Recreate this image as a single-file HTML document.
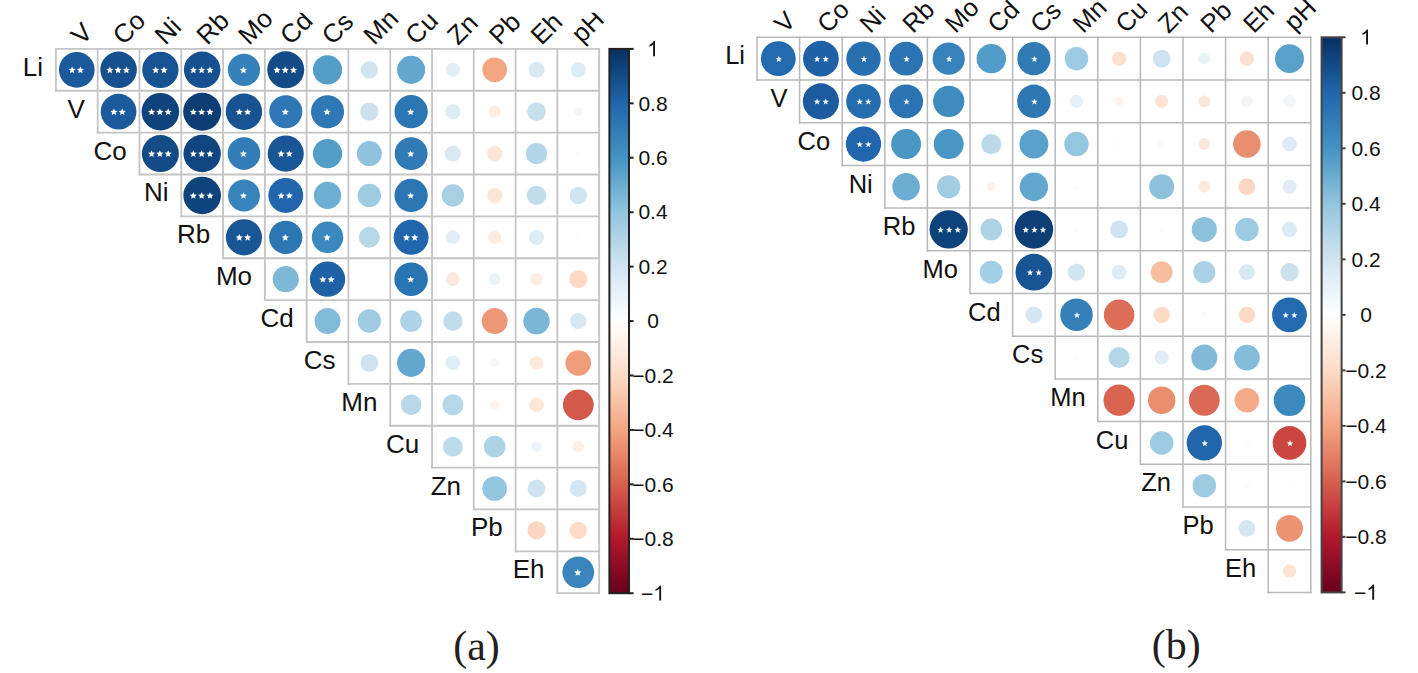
<!DOCTYPE html>
<html><head><meta charset="utf-8"><style>
html,body{margin:0;padding:0;background:#fff;}
body{width:1418px;height:673px;overflow:hidden;position:relative;}
svg{position:absolute;left:0;top:0;}
text{font-family:"Liberation Sans",sans-serif;}
.rl{text-anchor:end;fill:#111;}
.cl{fill:#111;}
.bl{text-anchor:middle;fill:#111;}
.st{font-size:19px;text-anchor:middle;fill:#fff;}
.cap{font-family:"Liberation Serif",serif;font-size:42px;fill:#231f20;text-anchor:middle;}
</style></head><body>
<svg width="1418" height="673" viewBox="0 0 1418 673">
<line x1="55.00" y1="48.90" x2="600.07" y2="48.90" stroke="#c4c4c4" stroke-width="1.8"/>
<line x1="55.00" y1="90.77" x2="600.07" y2="90.77" stroke="#c4c4c4" stroke-width="1.8"/>
<line x1="96.79" y1="132.64" x2="600.07" y2="132.64" stroke="#c4c4c4" stroke-width="1.8"/>
<line x1="138.58" y1="174.51" x2="600.07" y2="174.51" stroke="#c4c4c4" stroke-width="1.8"/>
<line x1="180.37" y1="216.38" x2="600.07" y2="216.38" stroke="#c4c4c4" stroke-width="1.8"/>
<line x1="222.16" y1="258.25" x2="600.07" y2="258.25" stroke="#c4c4c4" stroke-width="1.8"/>
<line x1="263.95" y1="300.12" x2="600.07" y2="300.12" stroke="#c4c4c4" stroke-width="1.8"/>
<line x1="305.74" y1="341.99" x2="600.07" y2="341.99" stroke="#c4c4c4" stroke-width="1.8"/>
<line x1="347.53" y1="383.86" x2="600.07" y2="383.86" stroke="#c4c4c4" stroke-width="1.8"/>
<line x1="389.32" y1="425.73" x2="600.07" y2="425.73" stroke="#c4c4c4" stroke-width="1.8"/>
<line x1="431.11" y1="467.60" x2="600.07" y2="467.60" stroke="#c4c4c4" stroke-width="1.8"/>
<line x1="472.90" y1="509.47" x2="600.07" y2="509.47" stroke="#c4c4c4" stroke-width="1.8"/>
<line x1="514.69" y1="551.34" x2="600.07" y2="551.34" stroke="#c4c4c4" stroke-width="1.8"/>
<line x1="556.48" y1="593.21" x2="600.07" y2="593.21" stroke="#c4c4c4" stroke-width="1.8"/>
<line x1="55.90" y1="48.00" x2="55.90" y2="91.67" stroke="#c4c4c4" stroke-width="1.8"/>
<line x1="97.69" y1="48.00" x2="97.69" y2="133.54" stroke="#c4c4c4" stroke-width="1.8"/>
<line x1="139.48" y1="48.00" x2="139.48" y2="175.41" stroke="#c4c4c4" stroke-width="1.8"/>
<line x1="181.27" y1="48.00" x2="181.27" y2="217.28" stroke="#c4c4c4" stroke-width="1.8"/>
<line x1="223.06" y1="48.00" x2="223.06" y2="259.15" stroke="#c4c4c4" stroke-width="1.8"/>
<line x1="264.85" y1="48.00" x2="264.85" y2="301.02" stroke="#c4c4c4" stroke-width="1.8"/>
<line x1="306.64" y1="48.00" x2="306.64" y2="342.89" stroke="#c4c4c4" stroke-width="1.8"/>
<line x1="348.43" y1="48.00" x2="348.43" y2="384.76" stroke="#c4c4c4" stroke-width="1.8"/>
<line x1="390.22" y1="48.00" x2="390.22" y2="426.63" stroke="#c4c4c4" stroke-width="1.8"/>
<line x1="432.01" y1="48.00" x2="432.01" y2="468.50" stroke="#c4c4c4" stroke-width="1.8"/>
<line x1="473.80" y1="48.00" x2="473.80" y2="510.37" stroke="#c4c4c4" stroke-width="1.8"/>
<line x1="515.59" y1="48.00" x2="515.59" y2="552.24" stroke="#c4c4c4" stroke-width="1.8"/>
<line x1="557.38" y1="48.00" x2="557.38" y2="594.11" stroke="#c4c4c4" stroke-width="1.8"/>
<line x1="599.17" y1="48.00" x2="599.17" y2="594.11" stroke="#c4c4c4" stroke-width="1.8"/>
<circle cx="76.80" cy="69.83" r="17.87" fill="#1b5b9d"/>
<polygon points="72.14,66.53 73.17,68.82 75.66,69.09 73.81,70.78 74.32,73.23 72.14,71.98 69.97,73.23 70.48,70.78 68.63,69.09 71.12,68.82" fill="#ffffff"/>
<polygon points="80.45,66.53 81.47,68.82 83.96,69.09 82.11,70.78 82.62,73.23 80.45,71.98 78.27,73.23 78.78,70.78 76.93,69.09 79.42,68.82" fill="#ffffff"/>
<circle cx="118.59" cy="69.83" r="18.29" fill="#16508e"/>
<polygon points="109.79,66.53 110.81,68.82 113.30,69.09 111.45,70.78 111.96,73.23 109.79,71.98 107.61,73.23 108.12,70.78 106.27,69.09 108.76,68.82" fill="#ffffff"/>
<polygon points="118.09,66.53 119.11,68.82 121.60,69.09 119.75,70.78 120.26,73.23 118.09,71.98 115.91,73.23 116.42,70.78 114.57,69.09 117.06,68.82" fill="#ffffff"/>
<polygon points="126.39,66.53 127.41,68.82 129.90,69.09 128.05,70.78 128.56,73.23 126.39,71.98 124.21,73.23 124.72,70.78 122.87,69.09 125.36,68.82" fill="#ffffff"/>
<circle cx="160.38" cy="69.83" r="18.19" fill="#175392"/>
<polygon points="155.72,66.53 156.75,68.82 159.24,69.09 157.39,70.78 157.90,73.23 155.72,71.98 153.55,73.23 154.06,70.78 152.21,69.09 154.70,68.82" fill="#ffffff"/>
<polygon points="164.03,66.53 165.05,68.82 167.54,69.09 165.69,70.78 166.20,73.23 164.03,71.98 161.85,73.23 162.36,70.78 160.51,69.09 163.00,68.82" fill="#ffffff"/>
<circle cx="202.16" cy="69.83" r="18.29" fill="#16508e"/>
<polygon points="193.36,66.53 194.39,68.82 196.88,69.09 195.03,70.78 195.54,73.23 193.36,71.98 191.19,73.23 191.70,70.78 189.85,69.09 192.34,68.82" fill="#ffffff"/>
<polygon points="201.66,66.53 202.69,68.82 205.18,69.09 203.33,70.78 203.84,73.23 201.66,71.98 199.49,73.23 200.00,70.78 198.15,69.09 200.64,68.82" fill="#ffffff"/>
<polygon points="209.97,66.53 210.99,68.82 213.48,69.09 211.63,70.78 212.14,73.23 209.97,71.98 207.79,73.23 208.30,70.78 206.45,69.09 208.94,68.82" fill="#ffffff"/>
<circle cx="243.96" cy="69.83" r="16.08" fill="#3581ba"/>
<polygon points="243.46,66.53 244.48,68.82 246.97,69.09 245.12,70.78 245.63,73.23 243.46,71.98 241.28,73.23 241.79,70.78 239.94,69.09 242.43,68.82" fill="#ffffff"/>
<circle cx="285.75" cy="69.83" r="18.50" fill="#134b86"/>
<polygon points="276.94,66.53 277.97,68.82 280.46,69.09 278.61,70.78 279.12,73.23 276.94,71.98 274.77,73.23 275.28,70.78 273.43,69.09 275.92,68.82" fill="#ffffff"/>
<polygon points="285.25,66.53 286.27,68.82 288.76,69.09 286.91,70.78 287.42,73.23 285.25,71.98 283.07,73.23 283.58,70.78 281.73,69.09 284.22,68.82" fill="#ffffff"/>
<polygon points="293.55,66.53 294.57,68.82 297.06,69.09 295.21,70.78 295.72,73.23 293.55,71.98 291.37,73.23 291.88,70.78 290.03,69.09 292.52,68.82" fill="#ffffff"/>
<circle cx="327.53" cy="69.83" r="14.59" fill="#539dc8"/>
<circle cx="369.32" cy="69.83" r="8.72" fill="#d1e5f0"/>
<circle cx="411.11" cy="69.83" r="14.06" fill="#63a7ce"/>
<circle cx="452.90" cy="69.83" r="7.03" fill="#e1eef5"/>
<circle cx="494.69" cy="69.83" r="12.33" fill="#f4a582"/>
<circle cx="536.49" cy="69.83" r="8.04" fill="#d8e9f2"/>
<circle cx="578.27" cy="69.83" r="7.55" fill="#dcecf4"/>
<circle cx="118.59" cy="111.70" r="17.87" fill="#1b5b9d"/>
<polygon points="113.94,108.40 114.96,110.69 117.45,110.96 115.60,112.65 116.11,115.10 113.94,113.85 111.76,115.10 112.27,112.65 110.42,110.96 112.91,110.69" fill="#ffffff"/>
<polygon points="122.24,108.40 123.26,110.69 125.75,110.96 123.90,112.65 124.41,115.10 122.24,113.85 120.06,115.10 120.57,112.65 118.72,110.96 121.21,110.69" fill="#ffffff"/>
<circle cx="160.38" cy="111.70" r="18.81" fill="#0f437b"/>
<polygon points="151.57,108.40 152.60,110.69 155.09,110.96 153.24,112.65 153.75,115.10 151.57,113.85 149.40,115.10 149.91,112.65 148.06,110.96 150.55,110.69" fill="#ffffff"/>
<polygon points="159.88,108.40 160.90,110.69 163.39,110.96 161.54,112.65 162.05,115.10 159.88,113.85 157.70,115.10 158.21,112.65 156.36,110.96 158.85,110.69" fill="#ffffff"/>
<polygon points="168.18,108.40 169.20,110.69 171.69,110.96 169.84,112.65 170.35,115.10 168.18,113.85 166.00,115.10 166.51,112.65 164.66,110.96 167.15,110.69" fill="#ffffff"/>
<circle cx="202.16" cy="111.70" r="19.01" fill="#0c3e74"/>
<polygon points="193.36,108.40 194.39,110.69 196.88,110.96 195.03,112.65 195.54,115.10 193.36,113.85 191.19,115.10 191.70,112.65 189.85,110.96 192.34,110.69" fill="#ffffff"/>
<polygon points="201.66,108.40 202.69,110.69 205.18,110.96 203.33,112.65 203.84,115.10 201.66,113.85 199.49,115.10 200.00,112.65 198.15,110.96 200.64,110.69" fill="#ffffff"/>
<polygon points="209.97,108.40 210.99,110.69 213.48,110.96 211.63,112.65 212.14,115.10 209.97,113.85 207.79,115.10 208.30,112.65 206.45,110.96 208.94,110.69" fill="#ffffff"/>
<circle cx="243.96" cy="111.70" r="18.19" fill="#175392"/>
<polygon points="239.31,108.40 240.33,110.69 242.82,110.96 240.97,112.65 241.48,115.10 239.31,113.85 237.13,115.10 237.64,112.65 235.79,110.96 238.28,110.69" fill="#ffffff"/>
<polygon points="247.61,108.40 248.63,110.69 251.12,110.96 249.27,112.65 249.78,115.10 247.61,113.85 245.43,115.10 245.94,112.65 244.09,110.96 246.58,110.69" fill="#ffffff"/>
<circle cx="285.75" cy="111.70" r="16.55" fill="#2f78b5"/>
<polygon points="285.25,108.40 286.27,110.69 288.76,110.96 286.91,112.65 287.42,115.10 285.25,113.85 283.07,115.10 283.58,112.65 281.73,110.96 284.22,110.69" fill="#ffffff"/>
<circle cx="327.53" cy="111.70" r="16.55" fill="#2f78b5"/>
<polygon points="327.03,108.40 328.06,110.69 330.55,110.96 328.70,112.65 329.21,115.10 327.03,113.85 324.86,115.10 325.37,112.65 323.52,110.96 326.01,110.69" fill="#ffffff"/>
<circle cx="369.32" cy="111.70" r="9.15" fill="#cbe2ee"/>
<circle cx="411.11" cy="111.70" r="16.66" fill="#2d76b4"/>
<polygon points="410.61,108.40 411.64,110.69 414.13,110.96 412.28,112.65 412.79,115.10 410.61,113.85 408.44,115.10 408.95,112.65 407.10,110.96 409.59,110.69" fill="#ffffff"/>
<circle cx="452.90" cy="111.70" r="7.55" fill="#dcecf4"/>
<circle cx="494.69" cy="111.70" r="6.17" fill="#feede3"/>
<circle cx="536.49" cy="111.70" r="9.35" fill="#c8e0ed"/>
<circle cx="578.27" cy="111.70" r="4.36" fill="#f4f8fb"/>
<circle cx="160.38" cy="153.57" r="18.50" fill="#134b86"/>
<polygon points="151.57,150.28 152.60,152.56 155.09,152.83 153.24,154.52 153.75,156.97 151.57,155.72 149.40,156.97 149.91,154.52 148.06,152.83 150.55,152.56" fill="#ffffff"/>
<polygon points="159.88,150.28 160.90,152.56 163.39,152.83 161.54,154.52 162.05,156.97 159.88,155.72 157.70,156.97 158.21,154.52 156.36,152.83 158.85,152.56" fill="#ffffff"/>
<polygon points="168.18,150.28 169.20,152.56 171.69,152.83 169.84,154.52 170.35,156.97 168.18,155.72 166.00,156.97 166.51,154.52 164.66,152.83 167.15,152.56" fill="#ffffff"/>
<circle cx="202.16" cy="153.57" r="18.70" fill="#10467f"/>
<polygon points="193.36,150.28 194.39,152.56 196.88,152.83 195.03,154.52 195.54,156.97 193.36,155.72 191.19,156.97 191.70,154.52 189.85,152.83 192.34,152.56" fill="#ffffff"/>
<polygon points="201.66,150.28 202.69,152.56 205.18,152.83 203.33,154.52 203.84,156.97 201.66,155.72 199.49,156.97 200.00,154.52 198.15,152.83 200.64,152.56" fill="#ffffff"/>
<polygon points="209.97,150.28 210.99,152.56 213.48,152.83 211.63,154.52 212.14,156.97 209.97,155.72 207.79,156.97 208.30,154.52 206.45,152.83 208.94,152.56" fill="#ffffff"/>
<circle cx="243.96" cy="153.57" r="16.31" fill="#327cb8"/>
<polygon points="243.46,150.28 244.48,152.56 246.97,152.83 245.12,154.52 245.63,156.97 243.46,155.72 241.28,156.97 241.79,154.52 239.94,152.83 242.43,152.56" fill="#ffffff"/>
<circle cx="285.75" cy="153.57" r="18.08" fill="#195696"/>
<polygon points="281.10,150.28 282.12,152.56 284.61,152.83 282.76,154.52 283.27,156.97 281.10,155.72 278.92,156.97 279.43,154.52 277.58,152.83 280.07,152.56" fill="#ffffff"/>
<polygon points="289.39,150.28 290.42,152.56 292.91,152.83 291.06,154.52 291.57,156.97 289.39,155.72 287.22,156.97 287.73,154.52 285.88,152.83 288.37,152.56" fill="#ffffff"/>
<circle cx="327.53" cy="153.57" r="14.59" fill="#539dc8"/>
<circle cx="369.32" cy="153.57" r="12.49" fill="#8ec2dd"/>
<circle cx="411.11" cy="153.57" r="16.43" fill="#307ab6"/>
<polygon points="410.61,150.28 411.64,152.56 414.13,152.83 412.28,154.52 412.79,156.97 410.61,155.72 408.44,156.97 408.95,154.52 407.10,152.83 409.59,152.56" fill="#ffffff"/>
<circle cx="452.90" cy="153.57" r="8.04" fill="#d8e9f2"/>
<circle cx="494.69" cy="153.57" r="7.55" fill="#fee4d5"/>
<circle cx="536.49" cy="153.57" r="10.68" fill="#b2d5e7"/>
<circle cx="578.27" cy="153.57" r="2.76" fill="#fafcfe"/>
<circle cx="202.16" cy="195.44" r="18.81" fill="#0f437b"/>
<polygon points="193.36,192.15 194.39,194.43 196.88,194.70 195.03,196.39 195.54,198.84 193.36,197.59 191.19,198.84 191.70,196.39 189.85,194.70 192.34,194.43" fill="#ffffff"/>
<polygon points="201.66,192.15 202.69,194.43 205.18,194.70 203.33,196.39 203.84,198.84 201.66,197.59 199.49,198.84 200.00,196.39 198.15,194.70 200.64,194.43" fill="#ffffff"/>
<polygon points="209.97,192.15 210.99,194.43 213.48,194.70 211.63,196.39 212.14,198.84 209.97,197.59 207.79,198.84 208.30,196.39 206.45,194.70 208.94,194.43" fill="#ffffff"/>
<circle cx="243.96" cy="195.44" r="15.96" fill="#3783bb"/>
<polygon points="243.46,192.15 244.48,194.43 246.97,194.70 245.12,196.39 245.63,198.84 243.46,197.59 241.28,198.84 241.79,196.39 239.94,194.70 242.43,194.43" fill="#ffffff"/>
<circle cx="285.75" cy="195.44" r="17.44" fill="#2166ac"/>
<polygon points="281.10,192.15 282.12,194.43 284.61,194.70 282.76,196.39 283.27,198.84 281.10,197.59 278.92,198.84 279.43,196.39 277.58,194.70 280.07,194.43" fill="#ffffff"/>
<polygon points="289.39,192.15 290.42,194.43 292.91,194.70 291.06,196.39 291.57,198.84 289.39,197.59 287.22,198.84 287.73,196.39 285.88,194.70 288.37,194.43" fill="#ffffff"/>
<circle cx="327.53" cy="195.44" r="13.65" fill="#6eaed2"/>
<circle cx="369.32" cy="195.44" r="11.70" fill="#9fcbe2"/>
<circle cx="411.11" cy="195.44" r="16.66" fill="#2d76b4"/>
<polygon points="410.61,192.15 411.64,194.43 414.13,194.70 412.28,196.39 412.79,198.84 410.61,197.59 408.44,198.84 408.95,196.39 407.10,194.70 409.59,194.43" fill="#ffffff"/>
<circle cx="452.90" cy="195.44" r="11.20" fill="#a8d0e4"/>
<circle cx="494.69" cy="195.44" r="7.55" fill="#fee4d5"/>
<circle cx="536.49" cy="195.44" r="9.75" fill="#c1ddec"/>
<circle cx="578.27" cy="195.44" r="8.72" fill="#d1e5f0"/>
<circle cx="243.96" cy="237.31" r="18.08" fill="#195696"/>
<polygon points="239.31,234.02 240.33,236.30 242.82,236.57 240.97,238.26 241.48,240.71 239.31,239.47 237.13,240.71 237.64,238.26 235.79,236.57 238.28,236.30" fill="#ffffff"/>
<polygon points="247.61,234.02 248.63,236.30 251.12,236.57 249.27,238.26 249.78,240.71 247.61,239.47 245.43,240.71 245.94,238.26 244.09,236.57 246.58,236.30" fill="#ffffff"/>
<circle cx="285.75" cy="237.31" r="16.66" fill="#2d76b4"/>
<polygon points="285.25,234.02 286.27,236.30 288.76,236.57 286.91,238.26 287.42,240.71 285.25,239.47 283.07,240.71 283.58,238.26 281.73,236.57 284.22,236.30" fill="#ffffff"/>
<circle cx="327.53" cy="237.31" r="15.72" fill="#3a88bd"/>
<polygon points="327.03,234.02 328.06,236.30 330.55,236.57 328.70,238.26 329.21,240.71 327.03,239.47 324.86,240.71 325.37,238.26 323.52,236.57 326.01,236.30" fill="#ffffff"/>
<circle cx="369.32" cy="237.31" r="10.50" fill="#b5d7e8"/>
<circle cx="411.11" cy="237.31" r="17.44" fill="#2166ac"/>
<polygon points="406.46,234.02 407.49,236.30 409.98,236.57 408.13,238.26 408.64,240.71 406.46,239.47 404.29,240.71 404.80,238.26 402.95,236.57 405.44,236.30" fill="#ffffff"/>
<polygon points="414.76,234.02 415.79,236.30 418.28,236.57 416.43,238.26 416.94,240.71 414.76,239.47 412.59,240.71 413.10,238.26 411.25,236.57 413.74,236.30" fill="#ffffff"/>
<circle cx="452.90" cy="237.31" r="7.03" fill="#e1eef5"/>
<circle cx="494.69" cy="237.31" r="6.47" fill="#feebe0"/>
<circle cx="536.49" cy="237.31" r="7.55" fill="#dcecf4"/>
<circle cx="578.27" cy="237.31" r="2.76" fill="#fffbf9"/>
<circle cx="285.75" cy="279.19" r="13.08" fill="#7eb8d7"/>
<circle cx="327.53" cy="279.19" r="17.66" fill="#1e61a5"/>
<polygon points="322.88,275.88 323.91,278.17 326.40,278.44 324.55,280.13 325.06,282.58 322.88,281.33 320.71,282.58 321.22,280.13 319.37,278.44 321.86,278.17" fill="#ffffff"/>
<polygon points="331.18,275.88 332.21,278.17 334.70,278.44 332.85,280.13 333.36,282.58 331.18,281.33 329.01,282.58 329.52,280.13 327.67,278.44 330.16,278.17" fill="#ffffff"/>
<circle cx="369.32" cy="279.19" r="1.95" fill="#fdfefe"/>
<circle cx="411.11" cy="279.19" r="16.77" fill="#2b74b3"/>
<polygon points="410.61,275.88 411.64,278.17 414.13,278.44 412.28,280.13 412.79,282.58 410.61,281.33 408.44,282.58 408.95,280.13 407.10,278.44 409.59,278.17" fill="#ffffff"/>
<circle cx="452.90" cy="279.19" r="6.89" fill="#fee8dc"/>
<circle cx="494.69" cy="279.19" r="5.85" fill="#eaf3f8"/>
<circle cx="536.49" cy="279.19" r="6.17" fill="#feede3"/>
<circle cx="578.27" cy="279.19" r="8.94" fill="#fdd8c4"/>
<circle cx="327.53" cy="321.05" r="12.93" fill="#82bbd9"/>
<circle cx="369.32" cy="321.05" r="11.70" fill="#9fcbe2"/>
<circle cx="411.11" cy="321.05" r="10.86" fill="#aed3e6"/>
<circle cx="452.90" cy="321.05" r="9.75" fill="#c1ddec"/>
<circle cx="494.69" cy="321.05" r="12.93" fill="#ee9777"/>
<circle cx="536.49" cy="321.05" r="13.23" fill="#7ab6d6"/>
<circle cx="578.27" cy="321.05" r="8.16" fill="#d7e8f2"/>
<circle cx="369.32" cy="362.92" r="8.94" fill="#cee3ef"/>
<circle cx="411.11" cy="362.92" r="14.06" fill="#63a7ce"/>
<circle cx="452.90" cy="362.92" r="7.30" fill="#dfedf4"/>
<circle cx="494.69" cy="362.92" r="4.36" fill="#f4f8fb"/>
<circle cx="536.49" cy="362.92" r="6.75" fill="#fee9dd"/>
<circle cx="578.27" cy="362.92" r="12.79" fill="#f09b7a"/>
<circle cx="411.11" cy="404.79" r="10.32" fill="#b8d8e9"/>
<circle cx="452.90" cy="404.79" r="10.50" fill="#b5d7e8"/>
<circle cx="494.69" cy="404.79" r="4.78" fill="#fef4ee"/>
<circle cx="536.49" cy="404.79" r="7.30" fill="#fee6d8"/>
<circle cx="578.27" cy="404.79" r="15.35" fill="#d2594a"/>
<circle cx="452.90" cy="446.66" r="9.94" fill="#bedbeb"/>
<circle cx="494.69" cy="446.66" r="10.86" fill="#aed3e6"/>
<circle cx="536.49" cy="446.66" r="5.34" fill="#eef5f9"/>
<circle cx="578.27" cy="446.66" r="5.85" fill="#feefe6"/>
<circle cx="494.69" cy="488.53" r="12.33" fill="#92c5de"/>
<circle cx="536.49" cy="488.53" r="8.94" fill="#cee3ef"/>
<circle cx="578.27" cy="488.53" r="8.50" fill="#d3e6f1"/>
<circle cx="536.49" cy="530.40" r="9.15" fill="#fcd6c0"/>
<circle cx="578.27" cy="530.40" r="8.72" fill="#fddbc7"/>
<circle cx="578.27" cy="572.27" r="15.84" fill="#3985bc"/>
<polygon points="577.77,568.97 578.80,571.26 581.29,571.53 579.44,573.22 579.95,575.67 577.77,574.42 575.60,575.67 576.11,573.22 574.26,571.53 576.75,571.26" fill="#ffffff"/>
<text x="43.10" y="75.83" class="rl" font-size="26">Li</text>
<text x="84.89" y="117.70" class="rl" font-size="26">V</text>
<text x="126.68" y="159.57" class="rl" font-size="26">Co</text>
<text x="168.47" y="201.44" class="rl" font-size="26">Ni</text>
<text x="210.26" y="243.31" class="rl" font-size="26">Rb</text>
<text x="252.05" y="285.19" class="rl" font-size="26">Mo</text>
<text x="293.84" y="327.05" class="rl" font-size="26">Cd</text>
<text x="335.63" y="368.92" class="rl" font-size="26">Cs</text>
<text x="377.42" y="410.79" class="rl" font-size="26">Mn</text>
<text x="419.21" y="452.66" class="rl" font-size="26">Cu</text>
<text x="461.00" y="494.53" class="rl" font-size="26">Zn</text>
<text x="502.79" y="536.40" class="rl" font-size="26">Pb</text>
<text x="544.58" y="578.27" class="rl" font-size="26">Eh</text>
<clipPath id="gac"><rect x="0" y="12.8" width="1418" height="673"/></clipPath><g clip-path="url(#gac)">
<text transform="translate(81.80,45.90) rotate(-45)" class="cl" font-size="26">V</text>
<text transform="translate(123.59,45.90) rotate(-45)" class="cl" font-size="26">Co</text>
<text transform="translate(165.38,45.90) rotate(-45)" class="cl" font-size="26">Ni</text>
<text transform="translate(207.16,45.90) rotate(-45)" class="cl" font-size="26">Rb</text>
<text transform="translate(248.96,45.90) rotate(-45)" class="cl" font-size="26">Mo</text>
<text transform="translate(290.75,45.90) rotate(-45)" class="cl" font-size="26">Cd</text>
<text transform="translate(332.53,45.90) rotate(-45)" class="cl" font-size="26">Cs</text>
<text transform="translate(374.32,45.90) rotate(-45)" class="cl" font-size="26">Mn</text>
<text transform="translate(416.11,45.90) rotate(-45)" class="cl" font-size="26">Cu</text>
<text transform="translate(457.90,45.90) rotate(-45)" class="cl" font-size="26">Zn</text>
<text transform="translate(499.69,45.90) rotate(-45)" class="cl" font-size="26">Pb</text>
<text transform="translate(541.49,45.90) rotate(-45)" class="cl" font-size="26">Eh</text>
<text transform="translate(582.07,44.30) rotate(-45)" class="cl" font-size="26">pH</text>
</g>
<defs><linearGradient id="ga" x1="0" y1="0" x2="0" y2="1"><stop offset="0.00" stop-color="#053061"/><stop offset="0.10" stop-color="#2166AC"/><stop offset="0.20" stop-color="#4393C3"/><stop offset="0.30" stop-color="#92C5DE"/><stop offset="0.40" stop-color="#D1E5F0"/><stop offset="0.50" stop-color="#FFFFFF"/><stop offset="0.60" stop-color="#FDDBC7"/><stop offset="0.70" stop-color="#F4A582"/><stop offset="0.80" stop-color="#D6604D"/><stop offset="0.90" stop-color="#B2182B"/><stop offset="1.00" stop-color="#67001F"/></linearGradient></defs>
<rect x="609.40" y="48.90" width="19.60" height="544.31" fill="url(#ga)" stroke="#222" stroke-width="2"/>
<line x1="629.00" y1="48.90" x2="633.60" y2="48.90" stroke="#222" stroke-width="2"/>
<path transform="translate(647.16,56.20) scale(0.01025,-0.01025)" d="M763 0H583V1147Q518 1085 412 1023Q307 961 223 930V1104Q374 1175 487 1276Q600 1377 647 1472H763Z" fill="#111"/>
<line x1="629.00" y1="103.33" x2="633.60" y2="103.33" stroke="#222" stroke-width="2"/>
<text x="653.00" y="110.63" class="bl" font-size="21">0.8</text>
<line x1="629.00" y1="157.76" x2="633.60" y2="157.76" stroke="#222" stroke-width="2"/>
<text x="653.00" y="165.06" class="bl" font-size="21">0.6</text>
<line x1="629.00" y1="212.19" x2="633.60" y2="212.19" stroke="#222" stroke-width="2"/>
<text x="653.00" y="219.49" class="bl" font-size="21">0.4</text>
<line x1="629.00" y1="266.62" x2="633.60" y2="266.62" stroke="#222" stroke-width="2"/>
<text x="653.00" y="273.92" class="bl" font-size="21">0.2</text>
<line x1="629.00" y1="321.05" x2="633.60" y2="321.05" stroke="#222" stroke-width="2"/>
<text x="653.00" y="328.35" class="bl" font-size="21">0</text>
<line x1="629.00" y1="375.49" x2="633.60" y2="375.49" stroke="#222" stroke-width="2"/>
<text x="653.00" y="382.79" class="bl" font-size="21">−0.2</text>
<line x1="629.00" y1="429.92" x2="633.60" y2="429.92" stroke="#222" stroke-width="2"/>
<text x="653.00" y="437.22" class="bl" font-size="21">−0.4</text>
<line x1="629.00" y1="484.35" x2="633.60" y2="484.35" stroke="#222" stroke-width="2"/>
<text x="653.00" y="491.65" class="bl" font-size="21">−0.6</text>
<line x1="629.00" y1="538.78" x2="633.60" y2="538.78" stroke="#222" stroke-width="2"/>
<text x="653.00" y="546.08" class="bl" font-size="21">−0.8</text>
<line x1="629.00" y1="593.21" x2="633.60" y2="593.21" stroke="#222" stroke-width="2"/>
<text x="641.03" y="600.51" class="bl" style="text-anchor:start" font-size="21">−</text>
<path transform="translate(653.29,600.51) scale(0.01025,-0.01025)" d="M763 0H583V1147Q518 1085 412 1023Q307 961 223 930V1104Q374 1175 487 1276Q600 1377 647 1472H763Z" fill="#111"/>
<line x1="756.25" y1="37.30" x2="1311.55" y2="37.30" stroke="#b8b8b8" stroke-width="1.5"/>
<line x1="756.25" y1="80.00" x2="1311.55" y2="80.00" stroke="#b8b8b8" stroke-width="1.5"/>
<line x1="798.85" y1="122.70" x2="1311.55" y2="122.70" stroke="#b8b8b8" stroke-width="1.5"/>
<line x1="841.45" y1="165.40" x2="1311.55" y2="165.40" stroke="#b8b8b8" stroke-width="1.5"/>
<line x1="884.05" y1="208.10" x2="1311.55" y2="208.10" stroke="#b8b8b8" stroke-width="1.5"/>
<line x1="926.65" y1="250.80" x2="1311.55" y2="250.80" stroke="#b8b8b8" stroke-width="1.5"/>
<line x1="969.25" y1="293.50" x2="1311.55" y2="293.50" stroke="#b8b8b8" stroke-width="1.5"/>
<line x1="1011.85" y1="336.20" x2="1311.55" y2="336.20" stroke="#b8b8b8" stroke-width="1.5"/>
<line x1="1054.45" y1="378.90" x2="1311.55" y2="378.90" stroke="#b8b8b8" stroke-width="1.5"/>
<line x1="1097.05" y1="421.60" x2="1311.55" y2="421.60" stroke="#b8b8b8" stroke-width="1.5"/>
<line x1="1139.65" y1="464.30" x2="1311.55" y2="464.30" stroke="#b8b8b8" stroke-width="1.5"/>
<line x1="1182.25" y1="507.00" x2="1311.55" y2="507.00" stroke="#b8b8b8" stroke-width="1.5"/>
<line x1="1224.85" y1="549.70" x2="1311.55" y2="549.70" stroke="#b8b8b8" stroke-width="1.5"/>
<line x1="1267.45" y1="592.40" x2="1311.55" y2="592.40" stroke="#b8b8b8" stroke-width="1.5"/>
<line x1="757.00" y1="36.55" x2="757.00" y2="80.75" stroke="#b8b8b8" stroke-width="1.5"/>
<line x1="799.60" y1="36.55" x2="799.60" y2="123.45" stroke="#b8b8b8" stroke-width="1.5"/>
<line x1="842.20" y1="36.55" x2="842.20" y2="166.15" stroke="#b8b8b8" stroke-width="1.5"/>
<line x1="884.80" y1="36.55" x2="884.80" y2="208.85" stroke="#b8b8b8" stroke-width="1.5"/>
<line x1="927.40" y1="36.55" x2="927.40" y2="251.55" stroke="#b8b8b8" stroke-width="1.5"/>
<line x1="970.00" y1="36.55" x2="970.00" y2="294.25" stroke="#b8b8b8" stroke-width="1.5"/>
<line x1="1012.60" y1="36.55" x2="1012.60" y2="336.95" stroke="#b8b8b8" stroke-width="1.5"/>
<line x1="1055.20" y1="36.55" x2="1055.20" y2="379.65" stroke="#b8b8b8" stroke-width="1.5"/>
<line x1="1097.80" y1="36.55" x2="1097.80" y2="422.35" stroke="#b8b8b8" stroke-width="1.5"/>
<line x1="1140.40" y1="36.55" x2="1140.40" y2="465.05" stroke="#b8b8b8" stroke-width="1.5"/>
<line x1="1183.00" y1="36.55" x2="1183.00" y2="507.75" stroke="#b8b8b8" stroke-width="1.5"/>
<line x1="1225.60" y1="36.55" x2="1225.60" y2="550.45" stroke="#b8b8b8" stroke-width="1.5"/>
<line x1="1268.20" y1="36.55" x2="1268.20" y2="593.15" stroke="#b8b8b8" stroke-width="1.5"/>
<line x1="1310.80" y1="36.55" x2="1310.80" y2="593.15" stroke="#b8b8b8" stroke-width="1.5"/>
<circle cx="778.30" cy="58.65" r="17.42" fill="#246aae"/>
<polygon points="778.80,55.75 779.68,57.94 782.03,58.10 780.23,59.61 780.80,61.90 778.80,60.65 776.80,61.90 777.37,59.61 775.57,58.10 777.92,57.94" fill="#f4f8fc"/>
<circle cx="820.90" cy="58.65" r="17.87" fill="#1e61a5"/>
<polygon points="817.10,55.75 817.98,57.94 820.33,58.10 818.53,59.61 819.10,61.90 817.10,60.65 815.10,61.90 815.67,59.61 813.87,58.10 816.22,57.94" fill="#f4f8fc"/>
<polygon points="825.70,55.75 826.58,57.94 828.93,58.10 827.13,59.61 827.70,61.90 825.70,60.65 823.70,61.90 824.27,59.61 822.47,58.10 824.82,57.94" fill="#f4f8fc"/>
<circle cx="863.50" cy="58.65" r="17.19" fill="#286fb0"/>
<polygon points="864.00,55.75 864.88,57.94 867.23,58.10 865.43,59.61 866.00,61.90 864.00,60.65 862.00,61.90 862.57,59.61 860.77,58.10 863.12,57.94" fill="#f4f8fc"/>
<circle cx="906.10" cy="58.65" r="16.96" fill="#2b73b3"/>
<polygon points="906.60,55.75 907.48,57.94 909.83,58.10 908.03,59.61 908.60,61.90 906.60,60.65 904.60,61.90 905.17,59.61 903.37,58.10 905.72,57.94" fill="#f4f8fc"/>
<circle cx="948.70" cy="58.65" r="16.13" fill="#3782bb"/>
<polygon points="949.20,55.75 950.08,57.94 952.43,58.10 950.63,59.61 951.20,61.90 949.20,60.65 947.20,61.90 947.77,59.61 945.97,58.10 948.32,57.94" fill="#f4f8fc"/>
<circle cx="991.30" cy="58.65" r="14.72" fill="#519cc8"/>
<circle cx="1033.90" cy="58.65" r="16.61" fill="#307ab6"/>
<polygon points="1034.40,55.75 1035.28,57.94 1037.63,58.10 1035.83,59.61 1036.40,61.90 1034.40,60.65 1032.40,61.90 1032.97,59.61 1031.17,58.10 1033.52,57.94" fill="#f4f8fc"/>
<circle cx="1076.50" cy="58.65" r="11.74" fill="#9dcbe1"/>
<circle cx="1119.10" cy="58.65" r="7.16" fill="#fde0cf"/>
<circle cx="1161.70" cy="58.65" r="8.88" fill="#cee3ef"/>
<circle cx="1204.30" cy="58.65" r="5.96" fill="#e9f3f8"/>
<circle cx="1246.90" cy="58.65" r="7.16" fill="#fde0cf"/>
<circle cx="1289.50" cy="58.65" r="14.45" fill="#59a1ca"/>
<circle cx="820.90" cy="101.35" r="18.08" fill="#1c5c9e"/>
<polygon points="817.10,98.45 817.98,100.64 820.33,100.80 818.53,102.31 819.10,104.60 817.10,103.35 815.10,104.60 815.67,102.31 813.87,100.80 816.22,100.64" fill="#f4f8fc"/>
<polygon points="825.70,98.45 826.58,100.64 828.93,100.80 827.13,102.31 827.70,104.60 825.70,103.35 823.70,104.60 824.27,102.31 822.47,100.80 824.82,100.64" fill="#f4f8fc"/>
<circle cx="863.50" cy="101.35" r="17.30" fill="#266daf"/>
<polygon points="859.70,98.45 860.58,100.64 862.93,100.80 861.13,102.31 861.70,104.60 859.70,103.35 857.70,104.60 858.27,102.31 856.47,100.80 858.82,100.64" fill="#f4f8fc"/>
<polygon points="868.30,98.45 869.18,100.64 871.53,100.80 869.73,102.31 870.30,104.60 868.30,103.35 866.30,104.60 866.87,102.31 865.07,100.80 867.42,100.64" fill="#f4f8fc"/>
<circle cx="906.10" cy="101.35" r="16.96" fill="#2b73b3"/>
<polygon points="906.60,98.45 907.48,100.64 909.83,100.80 908.03,102.31 908.60,104.60 906.60,103.35 904.60,104.60 905.17,102.31 903.37,100.80 905.72,100.64" fill="#f4f8fc"/>
<circle cx="948.70" cy="101.35" r="15.63" fill="#3d8bbf"/>
<circle cx="991.30" cy="101.35" r="1.99" fill="#fdfefe"/>
<circle cx="1033.90" cy="101.35" r="16.73" fill="#2e77b5"/>
<polygon points="1034.40,98.45 1035.28,100.64 1037.63,100.80 1035.83,102.31 1036.40,104.60 1034.40,103.35 1032.40,104.60 1032.97,102.31 1031.17,100.80 1033.52,100.64" fill="#f4f8fc"/>
<circle cx="1076.50" cy="101.35" r="6.58" fill="#e4f0f6"/>
<circle cx="1119.10" cy="101.35" r="4.44" fill="#fef2eb"/>
<circle cx="1161.70" cy="101.35" r="6.58" fill="#fde3d4"/>
<circle cx="1204.30" cy="101.35" r="5.96" fill="#fce6da"/>
<circle cx="1246.90" cy="101.35" r="5.96" fill="#f4f5f7"/>
<circle cx="1289.50" cy="101.35" r="6.28" fill="#f4f5f7"/>
<circle cx="863.50" cy="144.05" r="17.64" fill="#2166ac"/>
<polygon points="859.70,141.15 860.58,143.34 862.93,143.50 861.13,145.01 861.70,147.30 859.70,146.05 857.70,147.30 858.27,145.01 856.47,143.50 858.82,143.34" fill="#f4f8fc"/>
<polygon points="868.30,141.15 869.18,143.34 871.53,143.50 869.73,145.01 870.30,147.30 868.30,146.05 866.30,147.30 866.87,145.01 865.07,143.50 867.42,143.34" fill="#f4f8fc"/>
<circle cx="906.10" cy="144.05" r="14.99" fill="#4997c5"/>
<circle cx="948.70" cy="144.05" r="14.99" fill="#4997c5"/>
<circle cx="991.30" cy="144.05" r="10.12" fill="#badaea"/>
<circle cx="1033.90" cy="144.05" r="14.45" fill="#59a1ca"/>
<circle cx="1076.50" cy="144.05" r="12.24" fill="#94c6df"/>
<circle cx="1119.10" cy="144.05" r="2.81" fill="#fafcfd"/>
<circle cx="1161.70" cy="144.05" r="3.44" fill="#fff7f3"/>
<circle cx="1204.30" cy="144.05" r="5.96" fill="#fee8da"/>
<circle cx="1246.90" cy="144.05" r="13.75" fill="#ea8e70"/>
<circle cx="1289.50" cy="144.05" r="7.43" fill="#ddecf4"/>
<circle cx="906.10" cy="186.75" r="13.75" fill="#6cadd1"/>
<circle cx="948.70" cy="186.75" r="11.57" fill="#a1cce2"/>
<circle cx="991.30" cy="186.75" r="4.44" fill="#fef2eb"/>
<circle cx="1033.90" cy="186.75" r="14.18" fill="#61a6cd"/>
<circle cx="1076.50" cy="186.75" r="2.81" fill="#fafcfd"/>
<circle cx="1119.10" cy="186.75" r="1.99" fill="#fdfefe"/>
<circle cx="1161.70" cy="186.75" r="12.55" fill="#8cc1dc"/>
<circle cx="1204.30" cy="186.75" r="5.96" fill="#fee8da"/>
<circle cx="1246.90" cy="186.75" r="8.42" fill="#fcd7c3"/>
<circle cx="1289.50" cy="186.75" r="7.16" fill="#e0edf5"/>
<circle cx="948.70" cy="229.45" r="19.14" fill="#0e427a"/>
<polygon points="940.60,226.55 941.48,228.74 943.83,228.90 942.03,230.41 942.60,232.70 940.60,231.45 938.60,232.70 939.17,230.41 937.37,228.90 939.72,228.74" fill="#f4f8fc"/>
<polygon points="949.20,226.55 950.08,228.74 952.43,228.90 950.63,230.41 951.20,232.70 949.20,231.45 947.20,232.70 947.77,230.41 945.97,228.90 948.32,228.74" fill="#f4f8fc"/>
<polygon points="957.80,226.55 958.68,228.74 961.03,228.90 959.23,230.41 959.80,232.70 957.80,231.45 955.80,232.70 956.37,230.41 954.57,228.90 956.92,228.74" fill="#f4f8fc"/>
<circle cx="991.30" cy="229.45" r="10.87" fill="#aed3e6"/>
<circle cx="1033.90" cy="229.45" r="19.25" fill="#0d3f76"/>
<polygon points="1025.80,226.55 1026.68,228.74 1029.03,228.90 1027.23,230.41 1027.80,232.70 1025.80,231.45 1023.80,232.70 1024.37,230.41 1022.57,228.90 1024.92,228.74" fill="#f4f8fc"/>
<polygon points="1034.40,226.55 1035.28,228.74 1037.63,228.90 1035.83,230.41 1036.40,232.70 1034.40,231.45 1032.40,232.70 1032.97,230.41 1031.17,228.90 1033.52,228.74" fill="#f4f8fc"/>
<polygon points="1043.00,226.55 1043.88,228.74 1046.23,228.90 1044.43,230.41 1045.00,232.70 1043.00,231.45 1041.00,232.70 1041.57,230.41 1039.77,228.90 1042.12,228.74" fill="#f4f8fc"/>
<circle cx="1076.50" cy="229.45" r="2.81" fill="#fafcfd"/>
<circle cx="1119.10" cy="229.45" r="8.88" fill="#cee3ef"/>
<circle cx="1161.70" cy="229.45" r="2.81" fill="#fafcfd"/>
<circle cx="1204.30" cy="229.45" r="12.55" fill="#8cc1dc"/>
<circle cx="1246.90" cy="229.45" r="11.74" fill="#9dcbe1"/>
<circle cx="1289.50" cy="229.45" r="7.69" fill="#dbebf3"/>
<circle cx="991.30" cy="272.15" r="11.40" fill="#a4cee3"/>
<circle cx="1033.90" cy="272.15" r="18.41" fill="#185493"/>
<polygon points="1030.10,269.25 1030.98,271.44 1033.33,271.60 1031.53,273.11 1032.10,275.40 1030.10,274.15 1028.10,275.40 1028.67,273.11 1026.87,271.60 1029.22,271.44" fill="#f4f8fc"/>
<polygon points="1038.70,269.25 1039.58,271.44 1041.93,271.60 1040.13,273.11 1040.70,275.40 1038.70,274.15 1036.70,275.40 1037.27,273.11 1035.47,271.60 1037.82,271.44" fill="#f4f8fc"/>
<circle cx="1076.50" cy="272.15" r="8.65" fill="#d1e5f0"/>
<circle cx="1119.10" cy="272.15" r="7.43" fill="#ddecf4"/>
<circle cx="1161.70" cy="272.15" r="10.87" fill="#f8bc9f"/>
<circle cx="1204.30" cy="272.15" r="11.05" fill="#aad1e5"/>
<circle cx="1246.90" cy="272.15" r="7.94" fill="#d8e9f2"/>
<circle cx="1289.50" cy="272.15" r="9.10" fill="#cbe2ee"/>
<circle cx="1033.90" cy="314.85" r="8.42" fill="#d4e6f1"/>
<circle cx="1076.50" cy="314.85" r="16.25" fill="#3580b9"/>
<polygon points="1077.00,311.95 1077.88,314.14 1080.23,314.30 1078.43,315.81 1079.00,318.10 1077.00,316.85 1075.00,318.10 1075.57,315.81 1073.77,314.30 1076.12,314.14" fill="#f4f8fc"/>
<circle cx="1119.10" cy="314.85" r="15.25" fill="#dc6d57"/>
<circle cx="1161.70" cy="314.85" r="8.18" fill="#fddac5"/>
<circle cx="1204.30" cy="314.85" r="2.81" fill="#fffaf7"/>
<circle cx="1246.90" cy="314.85" r="8.18" fill="#fddac5"/>
<circle cx="1289.50" cy="314.85" r="17.42" fill="#246aae"/>
<polygon points="1285.70,311.95 1286.58,314.14 1288.93,314.30 1287.13,315.81 1287.70,318.10 1285.70,316.85 1283.70,318.10 1284.27,315.81 1282.47,314.30 1284.82,314.14" fill="#f4f8fc"/>
<polygon points="1294.30,311.95 1295.18,314.14 1297.53,314.30 1295.73,315.81 1296.30,318.10 1294.30,316.85 1292.30,318.10 1292.87,315.81 1291.07,314.30 1293.42,314.14" fill="#f4f8fc"/>
<circle cx="1076.50" cy="357.55" r="2.81" fill="#fffaf7"/>
<circle cx="1119.10" cy="357.55" r="10.50" fill="#b4d6e8"/>
<circle cx="1161.70" cy="357.55" r="7.16" fill="#e0edf5"/>
<circle cx="1204.30" cy="357.55" r="13.02" fill="#80bad8"/>
<circle cx="1246.90" cy="357.55" r="12.86" fill="#84bcd9"/>
<circle cx="1119.10" cy="400.25" r="15.63" fill="#d86450"/>
<circle cx="1161.70" cy="400.25" r="13.75" fill="#ea8e70"/>
<circle cx="1204.30" cy="400.25" r="15.38" fill="#da6a55"/>
<circle cx="1246.90" cy="400.25" r="12.24" fill="#f5aa88"/>
<circle cx="1289.50" cy="400.25" r="15.76" fill="#3c89be"/>
<circle cx="1161.70" cy="442.95" r="11.74" fill="#9dcbe1"/>
<circle cx="1204.30" cy="442.95" r="17.64" fill="#2166ac"/>
<polygon points="1204.80,440.05 1205.68,442.24 1208.03,442.40 1206.23,443.91 1206.80,446.20 1204.80,444.95 1202.80,446.20 1203.37,443.91 1201.57,442.40 1203.92,442.24" fill="#f4f8fc"/>
<circle cx="1246.90" cy="442.95" r="2.81" fill="#fffaf7"/>
<circle cx="1289.50" cy="442.95" r="16.84" fill="#c94641"/>
<polygon points="1290.00,440.05 1290.88,442.24 1293.23,442.40 1291.43,443.91 1292.00,446.20 1290.00,444.95 1288.00,446.20 1288.57,443.91 1286.77,442.40 1289.12,442.24" fill="#f4f8fc"/>
<circle cx="1204.30" cy="485.65" r="11.74" fill="#9dcbe1"/>
<circle cx="1246.90" cy="485.65" r="2.81" fill="#fafcfd"/>
<circle cx="1289.50" cy="485.65" r="1.99" fill="#fffcfb"/>
<circle cx="1246.90" cy="528.35" r="8.42" fill="#d4e6f1"/>
<circle cx="1289.50" cy="528.35" r="13.46" fill="#ec9374"/>
<circle cx="1289.50" cy="571.05" r="6.73" fill="#fde3d3"/>
<text x="745.00" y="64.45" class="rl" font-size="25.5">Li</text>
<text x="787.60" y="107.15" class="rl" font-size="25.5">V</text>
<text x="830.20" y="149.85" class="rl" font-size="25.5">Co</text>
<text x="872.80" y="192.55" class="rl" font-size="25.5">Ni</text>
<text x="915.40" y="235.25" class="rl" font-size="25.5">Rb</text>
<text x="958.00" y="277.95" class="rl" font-size="25.5">Mo</text>
<text x="1000.60" y="320.65" class="rl" font-size="25.5">Cd</text>
<text x="1043.20" y="363.35" class="rl" font-size="25.5">Cs</text>
<text x="1085.80" y="406.05" class="rl" font-size="25.5">Mn</text>
<text x="1128.40" y="448.75" class="rl" font-size="25.5">Cu</text>
<text x="1171.00" y="491.45" class="rl" font-size="25.5">Zn</text>
<text x="1213.60" y="534.15" class="rl" font-size="25.5">Pb</text>
<text x="1256.20" y="576.85" class="rl" font-size="25.5">Eh</text>
<text transform="translate(785.10,34.30) rotate(-45)" class="cl" font-size="25.5">V</text>
<text transform="translate(827.70,34.30) rotate(-45)" class="cl" font-size="25.5">Co</text>
<text transform="translate(870.30,34.30) rotate(-45)" class="cl" font-size="25.5">Ni</text>
<text transform="translate(912.90,34.30) rotate(-45)" class="cl" font-size="25.5">Rb</text>
<text transform="translate(955.50,34.30) rotate(-45)" class="cl" font-size="25.5">Mo</text>
<text transform="translate(998.10,34.30) rotate(-45)" class="cl" font-size="25.5">Cd</text>
<text transform="translate(1040.70,34.30) rotate(-45)" class="cl" font-size="25.5">Cs</text>
<text transform="translate(1083.30,34.30) rotate(-45)" class="cl" font-size="25.5">Mn</text>
<text transform="translate(1125.90,34.30) rotate(-45)" class="cl" font-size="25.5">Cu</text>
<text transform="translate(1168.50,34.30) rotate(-45)" class="cl" font-size="25.5">Zn</text>
<text transform="translate(1211.10,34.30) rotate(-45)" class="cl" font-size="25.5">Pb</text>
<text transform="translate(1253.70,34.30) rotate(-45)" class="cl" font-size="25.5">Eh</text>
<text transform="translate(1294.60,32.30) rotate(-45)" class="cl" font-size="25.5">pH</text>
<defs><linearGradient id="gb" x1="0" y1="0" x2="0" y2="1"><stop offset="0.00" stop-color="#053061"/><stop offset="0.10" stop-color="#2166AC"/><stop offset="0.20" stop-color="#4393C3"/><stop offset="0.30" stop-color="#92C5DE"/><stop offset="0.40" stop-color="#D1E5F0"/><stop offset="0.50" stop-color="#FFFFFF"/><stop offset="0.60" stop-color="#FDDBC7"/><stop offset="0.70" stop-color="#F4A582"/><stop offset="0.80" stop-color="#D6604D"/><stop offset="0.90" stop-color="#B2182B"/><stop offset="1.00" stop-color="#67001F"/></linearGradient></defs>
<rect x="1321.60" y="37.30" width="20.00" height="555.10" fill="url(#gb)" stroke="#444" stroke-width="2"/>
<line x1="1341.60" y1="37.30" x2="1345.60" y2="37.30" stroke="#444" stroke-width="2"/>
<path transform="translate(1360.16,44.60) scale(0.01025,-0.01025)" d="M763 0H583V1147Q518 1085 412 1023Q307 961 223 930V1104Q374 1175 487 1276Q600 1377 647 1472H763Z" fill="#111"/>
<line x1="1341.60" y1="92.81" x2="1345.60" y2="92.81" stroke="#444" stroke-width="2"/>
<text x="1366.00" y="100.11" class="bl" font-size="21">0.8</text>
<line x1="1341.60" y1="148.32" x2="1345.60" y2="148.32" stroke="#444" stroke-width="2"/>
<text x="1366.00" y="155.62" class="bl" font-size="21">0.6</text>
<line x1="1341.60" y1="203.83" x2="1345.60" y2="203.83" stroke="#444" stroke-width="2"/>
<text x="1366.00" y="211.13" class="bl" font-size="21">0.4</text>
<line x1="1341.60" y1="259.34" x2="1345.60" y2="259.34" stroke="#444" stroke-width="2"/>
<text x="1366.00" y="266.64" class="bl" font-size="21">0.2</text>
<line x1="1341.60" y1="314.85" x2="1345.60" y2="314.85" stroke="#444" stroke-width="2"/>
<text x="1366.00" y="322.15" class="bl" font-size="21">0</text>
<line x1="1341.60" y1="370.36" x2="1345.60" y2="370.36" stroke="#444" stroke-width="2"/>
<text x="1366.00" y="377.66" class="bl" font-size="21">−0.2</text>
<line x1="1341.60" y1="425.87" x2="1345.60" y2="425.87" stroke="#444" stroke-width="2"/>
<text x="1366.00" y="433.17" class="bl" font-size="21">−0.4</text>
<line x1="1341.60" y1="481.38" x2="1345.60" y2="481.38" stroke="#444" stroke-width="2"/>
<text x="1366.00" y="488.68" class="bl" font-size="21">−0.6</text>
<line x1="1341.60" y1="536.89" x2="1345.60" y2="536.89" stroke="#444" stroke-width="2"/>
<text x="1366.00" y="544.19" class="bl" font-size="21">−0.8</text>
<line x1="1341.60" y1="592.40" x2="1345.60" y2="592.40" stroke="#444" stroke-width="2"/>
<text x="1354.03" y="599.70" class="bl" style="text-anchor:start" font-size="21">−</text>
<path transform="translate(1366.29,599.70) scale(0.01025,-0.01025)" d="M763 0H583V1147Q518 1085 412 1023Q307 961 223 930V1104Q374 1175 487 1276Q600 1377 647 1472H763Z" fill="#111"/>
<text x="476.5" y="659.9" class="cap">(a)</text>
<text x="1176.3" y="659.4" class="cap">(b)</text>
</svg>
</body></html>
